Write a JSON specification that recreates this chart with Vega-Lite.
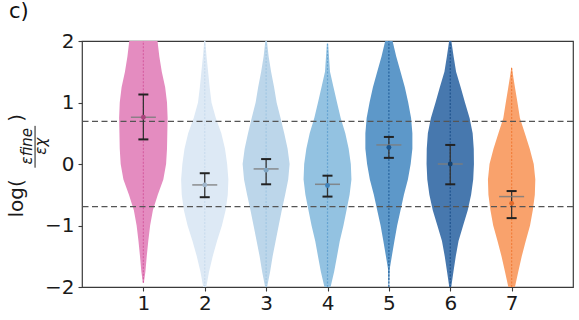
{
  "$schema": "https://vega.github.io/schema/vega-lite/v6.json",
  "width": 491,
  "height": 246,
  "autosize": "none",
  "padding": {"left": 82, "top": 41, "right": 6, "bottom": 33},
  "background": "white",
  "config": {
    "font": "DejaVu Sans",
    "view": {"stroke": "#3a3a3a", "strokeWidth": 1.2},
    "axis": {
      "domain": false,
      "grid": false,
      "ticks": true,
      "tickSize": 4,
      "tickColor": "#3a3a3a",
      "tickWidth": 1.1,
      "labelFont": "DejaVu Sans",
      "labelFontSize": 20,
      "labelColor": "#1a1a1a",
      "labelPadding": 4
    }
  },
  "title": {
    "text": "c)",
    "anchor": "start",
    "frame": "group",
    "dx": -73,
    "offset": 9,
    "font": "DejaVu Sans",
    "fontSize": 21,
    "fontWeight": "normal",
    "color": "#111111"
  },
  "datasets": {
    "violins": [
      {"g": 1, "v": 2.0, "w": 0.23}, {"g": 1, "v": 1.75, "w": 0.26}, {"g": 1, "v": 1.5, "w": 0.30}, {"g": 1, "v": 1.25, "w": 0.355},
      {"g": 1, "v": 1.0, "w": 0.385}, {"g": 1, "v": 0.75, "w": 0.395}, {"g": 1, "v": 0.5, "w": 0.39}, {"g": 1, "v": 0.25, "w": 0.385},
      {"g": 1, "v": 0.0, "w": 0.37}, {"g": 1, "v": -0.25, "w": 0.325}, {"g": 1, "v": -0.5, "w": 0.235}, {"g": 1, "v": -0.75, "w": 0.155},
      {"g": 1, "v": -1.0, "w": 0.11}, {"g": 1, "v": -1.25, "w": 0.08}, {"g": 1, "v": -1.5, "w": 0.055}, {"g": 1, "v": -1.75, "w": 0.033},
      {"g": 1, "v": -1.93, "w": 0.008},

      {"g": 2, "v": 2.0, "w": 0.008}, {"g": 2, "v": 1.75, "w": 0.03}, {"g": 2, "v": 1.5, "w": 0.055}, {"g": 2, "v": 1.25, "w": 0.08},
      {"g": 2, "v": 1.0, "w": 0.11}, {"g": 2, "v": 0.75, "w": 0.18}, {"g": 2, "v": 0.5, "w": 0.27}, {"g": 2, "v": 0.25, "w": 0.33},
      {"g": 2, "v": 0.0, "w": 0.365}, {"g": 2, "v": -0.25, "w": 0.385}, {"g": 2, "v": -0.5, "w": 0.375}, {"g": 2, "v": -0.75, "w": 0.34},
      {"g": 2, "v": -1.0, "w": 0.28}, {"g": 2, "v": -1.25, "w": 0.2}, {"g": 2, "v": -1.5, "w": 0.13}, {"g": 2, "v": -1.75, "w": 0.07},
      {"g": 2, "v": -2.0, "w": 0.025},

      {"g": 3, "v": 2.0, "w": 0.013}, {"g": 3, "v": 1.75, "w": 0.041}, {"g": 3, "v": 1.5, "w": 0.081}, {"g": 3, "v": 1.25, "w": 0.13},
      {"g": 3, "v": 1.0, "w": 0.171}, {"g": 3, "v": 0.75, "w": 0.235}, {"g": 3, "v": 0.5, "w": 0.295}, {"g": 3, "v": 0.25, "w": 0.35},
      {"g": 3, "v": 0.0, "w": 0.383}, {"g": 3, "v": -0.25, "w": 0.36}, {"g": 3, "v": -0.5, "w": 0.31}, {"g": 3, "v": -0.75, "w": 0.255},
      {"g": 3, "v": -1.0, "w": 0.205}, {"g": 3, "v": -1.25, "w": 0.155}, {"g": 3, "v": -1.5, "w": 0.106}, {"g": 3, "v": -1.75, "w": 0.065},
      {"g": 3, "v": -2.0, "w": 0.016},

      {"g": 4, "v": 1.95, "w": 0.01}, {"g": 4, "v": 1.75, "w": 0.024}, {"g": 4, "v": 1.5, "w": 0.041}, {"g": 4, "v": 1.25, "w": 0.098},
      {"g": 4, "v": 1.0, "w": 0.155}, {"g": 4, "v": 0.75, "w": 0.215}, {"g": 4, "v": 0.5, "w": 0.29}, {"g": 4, "v": 0.25, "w": 0.345},
      {"g": 4, "v": 0.0, "w": 0.38}, {"g": 4, "v": -0.25, "w": 0.39}, {"g": 4, "v": -0.5, "w": 0.36}, {"g": 4, "v": -0.75, "w": 0.31},
      {"g": 4, "v": -1.0, "w": 0.26}, {"g": 4, "v": -1.25, "w": 0.2}, {"g": 4, "v": -1.5, "w": 0.155}, {"g": 4, "v": -1.75, "w": 0.108},
      {"g": 4, "v": -2.0, "w": 0.05},

      {"g": 5, "v": 2.0, "w": 0.06}, {"g": 5, "v": 1.75, "w": 0.12}, {"g": 5, "v": 1.5, "w": 0.19}, {"g": 5, "v": 1.25, "w": 0.26},
      {"g": 5, "v": 1.0, "w": 0.315}, {"g": 5, "v": 0.75, "w": 0.362}, {"g": 5, "v": 0.5, "w": 0.383}, {"g": 5, "v": 0.25, "w": 0.383},
      {"g": 5, "v": 0.0, "w": 0.355}, {"g": 5, "v": -0.25, "w": 0.31}, {"g": 5, "v": -0.5, "w": 0.245}, {"g": 5, "v": -0.75, "w": 0.19},
      {"g": 5, "v": -1.0, "w": 0.135}, {"g": 5, "v": -1.25, "w": 0.09}, {"g": 5, "v": -1.5, "w": 0.048}, {"g": 5, "v": -1.7, "w": 0.015},
      {"g": 5, "v": -2.0, "w": 0.005},

      {"g": 6, "v": 2.0, "w": 0.018}, {"g": 6, "v": 1.75, "w": 0.055}, {"g": 6, "v": 1.5, "w": 0.095}, {"g": 6, "v": 1.25, "w": 0.17},
      {"g": 6, "v": 1.0, "w": 0.24}, {"g": 6, "v": 0.75, "w": 0.315}, {"g": 6, "v": 0.5, "w": 0.365}, {"g": 6, "v": 0.25, "w": 0.383},
      {"g": 6, "v": 0.0, "w": 0.386}, {"g": 6, "v": -0.25, "w": 0.374}, {"g": 6, "v": -0.5, "w": 0.34}, {"g": 6, "v": -0.75, "w": 0.285},
      {"g": 6, "v": -1.0, "w": 0.21}, {"g": 6, "v": -1.25, "w": 0.135}, {"g": 6, "v": -1.5, "w": 0.09}, {"g": 6, "v": -1.75, "w": 0.052},
      {"g": 6, "v": -2.0, "w": 0.016},

      {"g": 7, "v": 1.57, "w": 0.005}, {"g": 7, "v": 1.4, "w": 0.03}, {"g": 7, "v": 1.25, "w": 0.054}, {"g": 7, "v": 1.0, "w": 0.095},
      {"g": 7, "v": 0.75, "w": 0.135}, {"g": 7, "v": 0.5, "w": 0.215}, {"g": 7, "v": 0.25, "w": 0.295}, {"g": 7, "v": 0.0, "w": 0.36},
      {"g": 7, "v": -0.25, "w": 0.386}, {"g": 7, "v": -0.5, "w": 0.378}, {"g": 7, "v": -0.75, "w": 0.345}, {"g": 7, "v": -1.0, "w": 0.3},
      {"g": 7, "v": -1.25, "w": 0.23}, {"g": 7, "v": -1.5, "w": 0.165}, {"g": 7, "v": -1.75, "w": 0.108}, {"g": 7, "v": -2.0, "w": 0.054}
    ],
    "stats": [
      {"g": 1, "lo": 0.40, "hi": 1.13, "med": 0.76, "mean": 0.76, "min": -1.93, "max": 2.0},
      {"g": 2, "lo": -0.54, "hi": -0.15, "med": -0.34, "mean": -0.34, "min": -2.0, "max": 2.0},
      {"g": 3, "lo": -0.33, "hi": 0.08, "med": -0.08, "mean": -0.10, "min": -2.0, "max": 2.0},
      {"g": 4, "lo": -0.53, "hi": -0.19, "med": -0.33, "mean": -0.35, "min": -2.0, "max": 1.97},
      {"g": 5, "lo": 0.10, "hi": 0.44, "med": 0.31, "mean": 0.27, "min": -2.0, "max": 2.0},
      {"g": 6, "lo": -0.33, "hi": 0.31, "med": 0.0, "mean": 0.0, "min": -2.0, "max": 2.0},
      {"g": 7, "lo": -0.88, "hi": -0.44, "med": -0.53, "mean": -0.64, "min": -2.0, "max": 1.57}
    ],
    "refs": [{"y": 0.693}, {"y": -0.693}]
  },
  "layer": [
    {
      "data": {"name": "violins"},
      "transform": [
        {"calculate": "datum.g - datum.w", "as": "left"},
        {"calculate": "datum.g + datum.w", "as": "right"}
      ],
      "mark": {"type": "area", "orient": "horizontal"},
      "encoding": {
        "y": {"field": "v", "type": "quantitative", "scale": {"domain": [-2, 2], "nice": false, "zero": false},
              "axis": {"values": [-2, -1, 0, 1, 2], "title": null, "format": "d"}},
        "x": {"field": "left", "type": "quantitative", "scale": {"domain": [0, 8], "nice": false, "zero": false},
              "axis": {"values": [1, 2, 3, 4, 5, 6, 7], "title": null, "format": "d", "labelPadding": 2}},
        "x2": {"field": "right"},
        "fill": {"field": "g", "type": "nominal", "legend": null,
                 "scale": {"domain": [1, 2, 3, 4, 5, 6, 7],
                           "range": ["#e48cc0", "#dde9f5", "#bcd6ea", "#93c2e1", "#5d98c9", "#4778ae", "#f9a26c"]}}
      }
    },
    {
      "data": {"name": "stats"},
      "mark": {"type": "rule", "clip": true, "strokeWidth": 1.2, "strokeDash": [2, 1.5], "opacity": 0.85},
      "encoding": {
        "x": {"field": "g", "type": "quantitative", "scale": {"domain": [0, 8], "nice": false, "zero": false}},
        "y": {"field": "min", "type": "quantitative", "scale": {"domain": [-2, 2], "nice": false, "zero": false}},
        "y2": {"field": "max"},
        "stroke": {"field": "g", "type": "nominal", "legend": null,
                   "scale": {"domain": [1, 2, 3, 4, 5, 6, 7],
                             "range": ["#d4589e", "#c5d9ed", "#9dc4e2", "#5f9fcf", "#1d5b98", "#1a4d8a", "#f07a34"]}}
      }
    },
    {
      "data": {"name": "refs"},
      "mark": {"type": "rule", "color": "#555555", "strokeWidth": 1.4, "strokeDash": [6, 3.5]},
      "encoding": {
        "y": {"field": "y", "type": "quantitative", "scale": {"domain": [-2, 2], "nice": false, "zero": false}}
      }
    },
    {
      "data": {"name": "stats"},
      "mark": {"type": "rule", "color": "#333333", "strokeWidth": 1.3},
      "encoding": {
        "x": {"field": "g", "type": "quantitative", "scale": {"domain": [0, 8], "nice": false, "zero": false}},
        "y": {"field": "lo", "type": "quantitative", "scale": {"domain": [-2, 2], "nice": false, "zero": false}},
        "y2": {"field": "hi"}
      }
    },
    {
      "data": {"name": "stats"},
      "transform": [{"fold": ["lo", "hi"], "as": ["end", "val"]}],
      "mark": {"type": "tick", "orient": "horizontal", "size": 10, "thickness": 2, "color": "#222222", "opacity": 1},
      "encoding": {
        "x": {"field": "g", "type": "quantitative", "scale": {"domain": [0, 8], "nice": false, "zero": false}},
        "y": {"field": "val", "type": "quantitative", "scale": {"domain": [-2, 2], "nice": false, "zero": false}}
      }
    },
    {
      "data": {"name": "stats"},
      "mark": {"type": "tick", "orient": "horizontal", "size": 25, "thickness": 1.5, "color": "#7d7d7d", "opacity": 0.85},
      "encoding": {
        "x": {"field": "g", "type": "quantitative", "scale": {"domain": [0, 8], "nice": false, "zero": false}},
        "y": {"field": "med", "type": "quantitative", "scale": {"domain": [-2, 2], "nice": false, "zero": false}}
      }
    },
    {
      "data": {"name": "stats"},
      "mark": {"type": "point", "filled": true, "size": 24, "opacity": 1},
      "encoding": {
        "x": {"field": "g", "type": "quantitative", "scale": {"domain": [0, 8], "nice": false, "zero": false}},
        "y": {"field": "mean", "type": "quantitative", "scale": {"domain": [-2, 2], "nice": false, "zero": false}},
        "fill": {"field": "g", "type": "nominal", "legend": null,
                 "scale": {"domain": [1, 2, 3, 4, 5, 6, 7],
                           "range": ["#a8447c", "#9fb6cc", "#7fa6c4", "#3f83bb", "#1b5791", "#12406f", "#e0692a"]}}
      }
    },
    {
      "data": {"values": [{}]},
      "mark": {"type": "text", "text": "log(", "angle": 270, "align": "center", "baseline": "middle",
               "font": "DejaVu Sans", "fontSize": 20, "color": "#1a1a1a"},
      "encoding": {
        "x": {"datum": -1.06, "type": "quantitative"},
        "y": {"datum": -0.56, "type": "quantitative"}
      }
    },
    {
      "data": {"values": [{}]},
      "mark": {"type": "text", "text": ")", "angle": 270, "align": "center", "baseline": "middle",
               "font": "DejaVu Sans", "fontSize": 20, "color": "#1a1a1a"},
      "encoding": {
        "x": {"datum": -1.06, "type": "quantitative"},
        "y": {"datum": 0.75, "type": "quantitative"}
      }
    },
    {
      "data": {"values": [{}]},
      "mark": {"type": "text", "text": "εfine", "angle": 270, "align": "center", "baseline": "middle",
               "font": "DejaVu Sans", "fontSize": 15, "fontStyle": "italic", "color": "#1a1a1a"},
      "encoding": {
        "x": {"datum": -0.89, "type": "quantitative"},
        "y": {"datum": 0.29, "type": "quantitative"}
      }
    },
    {
      "data": {"values": [{}]},
      "mark": {"type": "rule", "color": "#1a1a1a", "strokeWidth": 1},
      "encoding": {
        "x": {"datum": -0.765, "type": "quantitative"},
        "y": {"datum": 0.62, "type": "quantitative"},
        "y2": {"datum": -0.06}
      }
    },
    {
      "data": {"values": [{}]},
      "mark": {"type": "text", "text": "εχ", "angle": 270, "align": "center", "baseline": "middle",
               "font": "DejaVu Sans", "fontSize": 15, "fontStyle": "italic", "color": "#1a1a1a"},
      "encoding": {
        "x": {"datum": -0.66, "type": "quantitative"},
        "y": {"datum": 0.29, "type": "quantitative"}
      }
    }
  ],
  "resolve": {"scale": {"fill": "independent", "stroke": "independent"}}
}
